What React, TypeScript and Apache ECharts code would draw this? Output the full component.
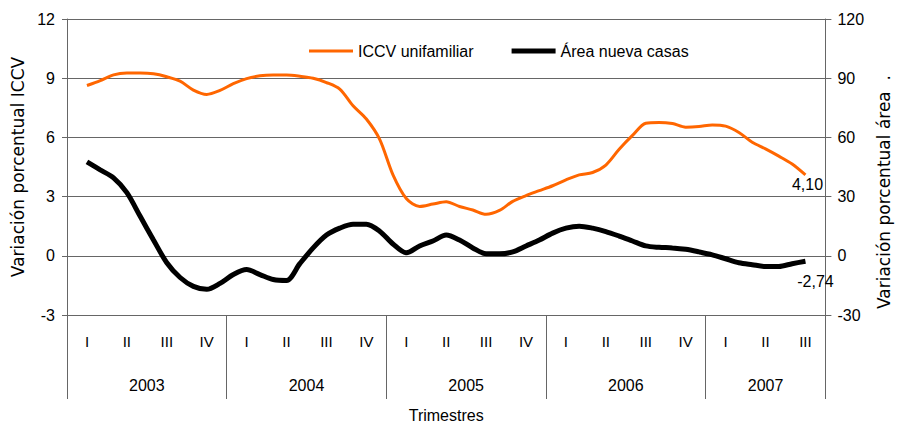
import React, { useEffect, useRef } from "react";
import * as echarts from "echarts";

const years = ["2003", "2004", "2005", "2006", "2007"];
const quartersPerYear = [4, 4, 4, 4, 3];
const quarterNames = ["I", "II", "III", "IV"];

// monthly points, Feb 2003 .. Aug 2007 (middle month of each quarter at quarter centre)
const iccv = [
  8.63, 8.88, 9.17, 9.26, 9.26, 9.22, 9.07, 8.85, 8.4, 8.18,
  8.38, 8.72, 8.98, 9.12, 9.16, 9.16, 9.1, 9.0, 8.78, 8.45,
  7.6, 6.93, 5.9, 4.1, 2.9, 2.5, 2.62, 2.74, 2.5, 2.32,
  2.1, 2.3, 2.76, 3.05, 3.3, 3.55, 3.85, 4.1, 4.22, 4.6,
  5.4, 6.1, 6.72, 6.76, 6.7, 6.52, 6.55, 6.63, 6.57, 6.25,
  5.75, 5.42, 5.05, 4.65, 4.1,
];
const area = [
  47.6, 43.5, 39.5, 32, 20, 8, -3.5, -11, -15.5, -17,
  -14, -9.5, -7, -9.5, -12, -12.5, -4, 4, 10.5, 14,
  16, 16, 12.5, 6, 1.5, 5, 7.5, 10.5, 8, 4,
  1, 1, 2, 5, 8, 11.5, 14, 15, 14, 12.3,
  10, 7.5, 5, 4.3, 4, 3.3, 2, 0.5, -1.5, -3.5,
  -4.5, -5.4, -5.4, -4, -2.74,
];
const endLabels = ["4,10", "-2,74"];

const FONT = "Liberation Sans";
const NAMEFONT = "DejaVu Sans";
const AX = "#666666";

export default function App() {
  const ref = useRef<HTMLDivElement>(null);
  useEffect(() => {
    document.body.style.margin = "0";
    if (!ref.current) return;
    const chart = echarts.init(ref.current, undefined, { renderer: "svg" });

    const quarterLabels: string[] = [];
    quartersPerYear.forEach((n) => {
      for (let i = 0; i < n; i++) quarterLabels.push(quarterNames[i]);
    });
    const nQ = quarterLabels.length;
    const months: string[] = [];
    for (let i = 0; i < nQ * 3; i++) months.push(String(i));
    const halfSlots: string[] = [];
    for (let i = 0; i <= nQ * 2; i++) halfSlots.push("");
    const sepIdx: number[] = [];
    let s = 0;
    years.forEach((y, i) => {
      sepIdx.push(s * 2);
      halfSlots[s * 2 + quartersPerYear[i]] = y;
      s += quartersPerYear[i];
    });
    sepIdx.push(s * 2);

    const iccvData = [null, ...iccv, null];
    const areaData = [null, ...area, null];
    const lastI = iccv.length;

    chart.setOption({
      animation: false,
      textStyle: { fontFamily: FONT },
      grid: { left: 67, right: 64, top: 19, bottom: 109, containLabel: false },
      legend: {
        left: 304,
        top: 38,
        itemWidth: 44,
        itemHeight: 14,
        itemGap: 38,
        textStyle: { fontFamily: FONT, fontSize: 16, color: "#000" },
        data: [
          { name: "ICCV unifamiliar", icon: "path://M0,0 H44 V3 H0 Z" },
          { name: "Área nueva casas", icon: "path://M0,0 H44 V5 H0 Z" },
        ],
      },
      xAxis: [
        { type: "category", data: months, show: false, boundaryGap: true },
        {
          type: "category",
          data: quarterLabels,
          position: "bottom",
          boundaryGap: true,
          axisLine: { show: false },
          axisTick: { show: false },
          axisLabel: {
            margin: 19,
            fontSize: 15,
            color: "#000000",
            fontFamily: FONT,
            interval: 0,
          },
          name: "Trimestres",
          nameLocation: "middle",
          nameGap: 92,
          nameTextStyle: { fontSize: 16, color: "#000", fontFamily: FONT },
        },
        {
          type: "category",
          data: halfSlots,
          position: "bottom",
          boundaryGap: false,
          axisLine: { show: true, lineStyle: { color: AX, width: 1 } },
          axisTick: {
            show: true,
            length: 84,
            interval: (idx: number) => sepIdx.indexOf(idx) >= 0,
            lineStyle: { color: AX, width: 1 },
          },
          axisLabel: {
            margin: 62,
            fontSize: 16,
            color: "#000",
            fontFamily: FONT,
            interval: (idx: number) => halfSlots[idx] !== "",
          },
        },
      ],
      yAxis: [
        {
          type: "value",
          min: -3,
          max: 12,
          interval: 3,
          position: "left",
          axisLine: { show: true, lineStyle: { color: AX } },
          axisTick: { show: true, length: 5, lineStyle: { color: AX } },
          splitLine: { show: true, lineStyle: { color: AX, width: 1 } },
          axisLabel: { margin: 12, fontSize: 16, color: "#000", fontFamily: FONT },
          name: "Variación porcentual ICCV",
          nameLocation: "middle",
          nameGap: 36,
          nameRotate: 90,
          nameTextStyle: { fontSize: 17, color: "#000", fontFamily: NAMEFONT },
        },
        {
          type: "value",
          min: -30,
          max: 120,
          interval: 30,
          position: "right",
          axisLine: { show: true, lineStyle: { color: AX } },
          axisTick: { show: true, length: 6, lineStyle: { color: AX } },
          splitLine: { show: false },
          axisLabel: { margin: 12, fontSize: 16, color: "#000", fontFamily: FONT },
          name: "Variación porcentual área  .",
          nameLocation: "middle",
          nameGap: 49,
          nameRotate: 90,
          nameTextStyle: {
            fontSize: 17,
            color: "#000",
            fontFamily: NAMEFONT,
            padding: [0, 50, 0, 0],
          },
        },
      ],
      series: [
        {
          name: "ICCV unifamiliar",
          type: "line",
          xAxisIndex: 0,
          yAxisIndex: 0,
          data: iccvData,
          symbol: "none",
          smooth: 0.3,
          color: "#FF6600",
          lineStyle: { color: "#FF6600", width: 3 },
          markPoint: {
            symbol: "circle",
            symbolSize: 0,
            data: [
              {
                coord: [lastI, iccv[iccv.length - 1]],
                label: {
                  show: true,
                  formatter: endLabels[0],
                  position: "bottom",
                  distance: 2,
                  offset: [2, 0],
                  fontSize: 16,
                  color: "#000",
                  fontFamily: FONT,
                },
              },
            ],
          },
        },
        {
          name: "Área nueva casas",
          type: "line",
          xAxisIndex: 0,
          yAxisIndex: 1,
          data: areaData,
          symbol: "none",
          smooth: 0.3,
          color: "#000000",
          lineStyle: { color: "#000000", width: 5 },
          markPoint: {
            symbol: "circle",
            symbolSize: 0,
            data: [
              {
                coord: [lastI, area[area.length - 1]],
                label: {
                  show: true,
                  formatter: endLabels[1],
                  position: "bottom",
                  distance: 12,
                  offset: [10, 0],
                  fontSize: 16,
                  color: "#000",
                  fontFamily: FONT,
                },
              },
            ],
          },
        },
      ],
    });
    return () => chart.dispose();
  }, []);
  return <div ref={ref} style={{ width: 900, height: 428 }} />;
}
